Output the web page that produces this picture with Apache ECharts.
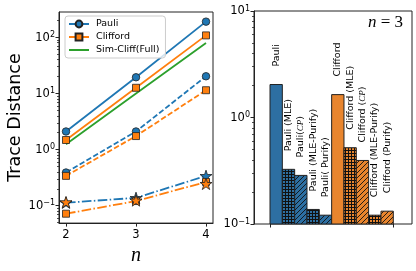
<!DOCTYPE html>
<html><head><meta charset="utf-8">
<script src="https://cdn.jsdelivr.net/npm/echarts@6/dist/echarts.min.js"></script>
<style>html,body{margin:0;padding:0;background:#fff}#c{width:416px;height:271px}</style>
</head><body><div id="c"></div>
<script>
// ---------- data ----------
const nValues = [2, 3, 4];
const nTicks = [2, 3, 4];
const pauli = [2.1, 19.4, 190];
const clifford = [1.48, 12.6, 108];
const simCliffFull = [1.24, 10.0, 79];
const pauliDashed = [0.39, 2.1, 20.2];
const cliffordDashed = [0.34, 1.74, 11.4];
const pauliDashDot = [0.113, 0.138, 0.34];
const cliffordDashDot = [0.072, 0.121, 0.265];
const cliffordStars = [0.116, 0.124, 0.245];
const leftTicks = [0.1, 1, 10, 100];
const rightTicks = [0.1, 1, 10];
const barCategories = ['Pauli', 'Pauli (MLE)', 'Pauli(CP)', 'Pauli (MLE-Purify)', 'Pauli( Purify)',
  'Clifford', 'Clifford (MLE)', 'Clifford (CP)', 'Clifford (MLE-Purify)', 'Clifford (Purify)'];
const barValues = [2.04, 0.326, 0.286, 0.137, 0.121, 1.64, 0.52, 0.395, 0.121, 0.132];

// ---------- style ----------
const BLUE = '#1f77b4', ORANGE = '#ff7f0e', GREEN = '#2ca02c';
const BAR_BLUE = '#2d6fa2', BAR_ORANGE = '#e8852e';
const barColor = [BAR_BLUE, BAR_BLUE, BAR_BLUE, BAR_BLUE, BAR_BLUE, BAR_ORANGE, BAR_ORANGE, BAR_ORANGE, BAR_ORANGE, BAR_ORANGE];
const barHatch = ['', '+', '/', '+', '/', '', '+', '/', '+', '/'];
const FONT = 'DejaVu Sans';
const STAR = 'path://M50,0 L61.23,34.55 L97.55,34.55 L68.17,55.9 L79.39,90.45 L50,69.1 L20.61,90.45 L31.83,55.9 L2.45,34.55 L38.77,34.55 Z';
const DASH = [5.5, 2.4];
const DASHDOT = [9.6, 2.4, 1.5, 2.4];
const leftMin = 0.049, leftMax = 282;
const rightMin = 0.1, rightMax = 10;

function minorTicks(lo, hi) {
  const out = [];
  for (let e = Math.floor(Math.log10(lo)); e <= Math.ceil(Math.log10(hi)); e++) {
    for (let m = 2; m <= 9; m++) {
      const v = m * Math.pow(10, e);
      if (v >= lo && v <= hi) out.push(v);
    }
  }
  return out;
}
function powLabel(value) {
  const e = Math.round(Math.log10(value));
  return '{b|10}{s|' + (e < 0 ? '\u2212' + (-e) : e) + '}';
}
const powRich = {
  b: { fontSize: 11.5, fontFamily: FONT, color: '#000', verticalAlign: 'bottom' },
  s: { fontSize: 8, fontFamily: FONT, color: '#000', verticalAlign: 'bottom', padding: [0, 0, 5, 0] }
};
function pattern(bg, kind) {
  if (!kind) return bg;
  const s = kind === '+' ? 3 : 5;
  const c = document.createElement('canvas');
  c.width = s; c.height = s;
  const g = c.getContext('2d');
  g.fillStyle = bg; g.fillRect(0, 0, s, s);
  g.fillStyle = '#111'; g.strokeStyle = '#111'; g.lineWidth = 0.9;
  if (kind === '+') {
    g.fillRect(0, 0, s, 1); g.fillRect(0, 0, 1, s);
  } else {
    g.beginPath();
    g.moveTo(0, s); g.lineTo(s, 0);
    g.moveTo(-1, 1); g.lineTo(1, -1);
    g.moveTo(s - 1, s + 1); g.lineTo(s + 1, s - 1);
    g.stroke();
  }
  return { image: c, repeat: 'repeat' };
}
function barLabel(name) {
  return name.split('CP').map(p => p ? '{t|' + p + '}' : '').join('{i|CP}');
}
const pts = arr => nValues.map((n, i) => [n, arr[i]]);

function lineSeries(name, arr, color, type, symbol, size, extra) {
  return Object.assign({
    name, type: 'line', xAxisIndex: 0, yAxisIndex: 0, data: pts(arr),
    color: color, symbol: symbol, symbolSize: size, symbolKeepAspect: true,
    showSymbol: true,
    lineStyle: { color: color, width: 1.8, type: type },
    itemStyle: { color: color, borderColor: '#222', borderWidth: 0.8 },
    emphasis: { disabled: true }
  }, extra || {});
}

const minorL = minorTicks(leftMin, leftMax);
const minorR = minorTicks(rightMin, rightMax);

const chart = echarts.init(document.getElementById('c'), null, { renderer: 'canvas' });
chart.setOption({
  animation: false,
  backgroundColor: '#fff',
  textStyle: { fontFamily: FONT },
  title: {
    text: '{i|n}{r| = 3}', right: 8, top: 9,
    textStyle: { fontWeight: 'normal', rich: {
      i: { fontFamily: 'Liberation Serif', fontStyle: 'italic', fontWeight: 'normal', fontSize: 17, color: '#000' },
      r: { fontFamily: 'Liberation Serif', fontWeight: 'normal', fontSize: 17, color: '#000' }
    } }
  },
  legend: {
    data: ['Pauli', 'Clifford', 'Sim-Cliff(Full)'],
    orient: 'vertical', left: 65, top: 16,
    itemWidth: 20, itemHeight: 8.5, itemGap: 3,
    padding: [3, 6, 3, 3],
    borderColor: '#cccccc', borderWidth: 1, borderRadius: 3,
    backgroundColor: 'rgba(255,255,255,0.8)',
    textStyle: { fontSize: 9.5, fontFamily: FONT, color: '#000', padding: [0, 0, 0, 2] }
  },
  grid: [
    { left: 59, right: 203, top: 12, bottom: 47, show: true, borderColor: '#222', borderWidth: 1 },
    { left: 254, right: 4, top: 11, bottom: 47, show: true, borderColor: '#222', borderWidth: 1 },
    { left: 270, right: 22.7, top: 11, bottom: 47 }
  ],
  xAxis: [
    {
      gridIndex: 0, type: 'value', min: 1.9, max: 4.1,
      name: 'n', nameLocation: 'middle', nameGap: 22,
      nameTextStyle: { fontFamily: 'Liberation Serif', fontStyle: 'italic', fontSize: 20, color: '#000' },
      axisLine: { show: true, lineStyle: { color: '#222', width: 1 } },
      axisTick: { show: true, length: 3.5, customValues: nTicks, lineStyle: { color: '#222' } },
      axisLabel: { customValues: nTicks, fontSize: 11.5, color: '#000', margin: 6, fontFamily: FONT },
      splitLine: { show: false }
    },
    { gridIndex: 1, type: 'value', min: 0, max: 1, show: false },
    {
      gridIndex: 2, type: 'category', data: barCategories, boundaryGap: true,
      axisLine: { show: false },
      axisTick: { show: true, length: 3.5, interval: (idx) => idx === 5, lineStyle: { color: '#222' } },
      axisLabel: { show: false }, splitLine: { show: false }
    }
  ],
  yAxis: [
    {
      gridIndex: 0, type: 'log', logBase: 10, min: leftMin, max: leftMax,
      name: 'Trace Distance', nameLocation: 'middle', nameGap: 25,
      nameTextStyle: { fontSize: 17.5, color: '#000', fontFamily: FONT },
      axisLine: { show: true, lineStyle: { color: '#222', width: 1 } },
      axisTick: { show: true, length: 3.5, customValues: leftTicks, lineStyle: { color: '#222' } },
      axisLabel: { customValues: leftTicks, formatter: powLabel, rich: powRich, margin: 4 },
      splitLine: { show: false }
    },
    {
      gridIndex: 0, type: 'log', logBase: 10, min: leftMin, max: leftMax, position: 'left',
      axisLine: { show: false }, axisLabel: { show: false }, splitLine: { show: false },
      axisTick: { show: true, length: 2, customValues: minorL, lineStyle: { color: '#222', width: 0.8 } }
    },
    {
      gridIndex: 1, type: 'log', logBase: 10, min: rightMin, max: rightMax,
      axisLine: { show: true, lineStyle: { color: '#222', width: 1 } },
      axisTick: { show: true, length: 3.5, customValues: rightTicks, lineStyle: { color: '#222' } },
      axisLabel: { customValues: rightTicks, formatter: powLabel, rich: powRich, margin: 4 },
      splitLine: { show: false }
    },
    {
      gridIndex: 1, type: 'log', logBase: 10, min: rightMin, max: rightMax, position: 'left',
      axisLine: { show: false }, axisLabel: { show: false }, splitLine: { show: false },
      axisTick: { show: true, length: 2, customValues: minorR, lineStyle: { color: '#222', width: 0.8 } }
    },
    { gridIndex: 2, type: 'log', logBase: 10, min: rightMin, max: rightMax, show: false }
  ],
  series: [
    lineSeries('Pauli', pauli, BLUE, 'solid', 'circle', 7.5),
    lineSeries('Clifford', clifford, ORANGE, 'solid', 'rect', 7),
    lineSeries('Sim-Cliff(Full)', simCliffFull, GREEN, 'solid', 'circle', 0,
      { itemStyle: { color: 'rgba(0,0,0,0)', borderWidth: 0, borderColor: 'rgba(0,0,0,0)' } }),
    lineSeries('Pauli (MLE)', pauliDashed, BLUE, DASH, 'circle', 7.5),
    lineSeries('Clifford (MLE)', cliffordDashed, ORANGE, DASH, 'rect', 7),
    lineSeries('Pauli (MLE-Purify)', pauliDashDot, BLUE, DASHDOT, STAR, 12),
    lineSeries('Clifford (MLE-Purify)', cliffordDashDot, ORANGE, DASHDOT, 'rect', 7),
    lineSeries('Clifford (Purify)', cliffordStars, ORANGE, 'solid', STAR, 12, { lineStyle: { width: 0, color: ORANGE } }),
    {
      type: 'custom', name: 'bars', xAxisIndex: 2, yAxisIndex: 4,
      data: barCategories.map((c, i) => [i, barValues[i]]),
      encode: { x: 0, y: 1 },
      renderItem: function (params, api) {
        const i = params.dataIndex;
        const top = api.coord([api.value(0), api.value(1)]);
        const base = api.coord([api.value(0), rightMin]);
        const w = api.size([1, 0])[0];
        return {
          type: 'group',
          children: [
            {
              type: 'rect',
              shape: { x: top[0] - w / 2, y: top[1], width: w, height: base[1] - top[1] },
              style: { fill: pattern(barColor[i], barHatch[i]), stroke: '#222', lineWidth: 1 }
            },
            {
              type: 'text', x: top[0], y: top[1] - 18, rotation: Math.PI / 2,
              style: {
                text: barLabel(barCategories[i]), fontSize: 9.5, fontFamily: FONT, fill: '#000',
                align: 'left', verticalAlign: 'middle',
                rich: {
                  t: { fontFamily: FONT, fontSize: 9.5, fill: '#000' },
                  i: { fontStyle: 'italic', fontFamily: 'Liberation Serif', fontSize: 9, fill: '#000' }
                }
              }
            }
          ]
        };
      }
    }
  ]
});
</script>
</body></html>
